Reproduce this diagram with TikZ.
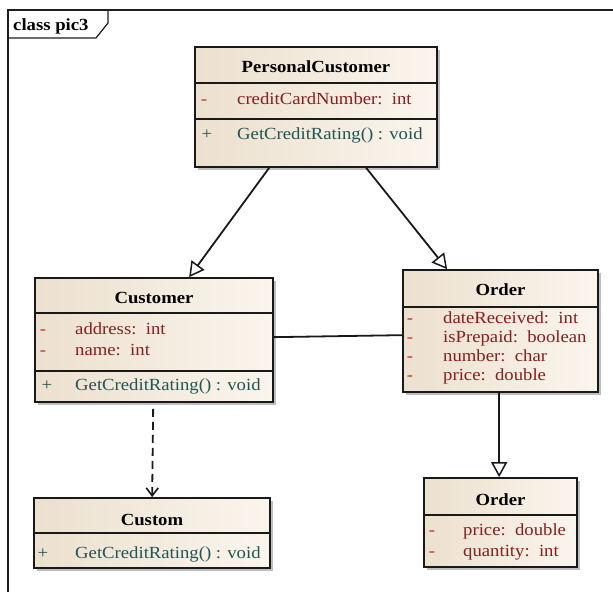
\documentclass[tikz,border=0pt]{standalone}
\usepackage{fontspec}
\setmainfont{Liberation Serif}[FakeStretch=1.1]
\usetikzlibrary{arrows.meta,shadows}
\definecolor{boxL}{RGB}{236,224,206}
\definecolor{boxR}{RGB}{250,245,237}
\definecolor{attrcol}{RGB}{135,30,30}
\definecolor{visred}{RGB}{185,45,40}
\definecolor{opcol}{RGB}{30,85,85}
\definecolor{framecol}{RGB}{30,30,30}
\newcommand\umlfont{\fontsize{17bp}{19bp}\selectfont}
\tikzset{
  umlbox/.style={draw=black!90, line width=1.7bp, inner sep=0pt,
    left color=boxL, right color=boxR,
    drop shadow={shadow xshift=3bp, shadow yshift=-3bp, fill=black, opacity=0.25}},
  sepline/.style={draw=black!90, line width=1.5bp},
  ttl/.style={anchor=base, font=\umlfont\bfseries, inner sep=0pt},
  attr/.style={anchor=base west, font=\umlfont, text=attrcol, inner sep=0pt},
  op/.style={anchor=base west, font=\umlfont, text=opcol, inner sep=0pt},
  visminus/.style={anchor=base, font=\umlfont, text=visred, inner sep=0pt},
  visplus/.style={anchor=base, font=\umlfont, text=opcol, inner sep=0pt},
  conn/.style={line width=1.8bp, draw=black!90},
  gen/.style={conn, -{Triangle[length=15bp, width=16bp, fill=white, line width=1.5bp]}},
  dep/.style={conn, dash pattern=on 8bp off 5bp, -{Straight Barb[length=8bp, width=12bp, line width=1.6bp]}}
}
\begin{document}
\begin{tikzpicture}[x=1bp, y=-1bp]
\useasboundingbox[fill=white] (0,0) rectangle (613,592);

% diagram frame and name tab
\draw[framecol, line width=1.2bp] (8,592) -- (8,10) -- (613,10);
\draw[framecol, line width=1.2bp] (8,38) -- (96,38) -- (108,23) -- (108,10);
\node[anchor=base west, inner sep=0pt, font=\umlfont\bfseries] (tab) at (13,31) {class pic3};

% classes
\node[umlbox, minimum width=242bp, minimum height=120bp] (pc) at (316,107) {};
\node[umlbox, minimum width=238bp, minimum height=124bp] (cust) at (154,340) {};
\node[umlbox, minimum width=195bp, minimum height=122bp] (ord) at (500.5,331) {};
\node[umlbox, minimum width=236bp, minimum height=70bp] (custom) at (152,533) {};
\node[umlbox, minimum width=153bp, minimum height=89bp] (ord2) at (500.5,522.5) {};

% compartment separators
\draw[sepline] (pc.west |- 0,83) -- (pc.east |- 0,83);
\draw[sepline] (pc.west |- 0,119) -- (pc.east |- 0,119);
\draw[sepline] (cust.west |- 0,313) -- (cust.east |- 0,313);
\draw[sepline] (cust.west |- 0,371) -- (cust.east |- 0,371);
\draw[sepline] (ord.west |- 0,307) -- (ord.east |- 0,307);
\draw[sepline] (custom.west |- 0,533) -- (custom.east |- 0,533);
\draw[sepline] (ord2.west |- 0,515) -- (ord2.east |- 0,515);

% PersonalCustomer
\node[ttl] (pcT) at (316,73) {PersonalCustomer};
\node[visminus] (pcV1) at (204,105) {-};
\node[attr] (pcA1) at (237,105) {creditCardNumber:\ \ int};
\node[visplus] (pcV2) at (207,140) {+};
\node[op] (pcO1) at (237,140) {GetCreditRating() : void};

% Customer
\node[ttl] (custT) at (154,303) {Customer};
\node[visminus] (custV1) at (43,334) {-};
\node[attr] (custA1) at (75,334) {address:\ \ int};
\node[visminus] (custV2) at (43,355) {-};
\node[attr] (custA2) at (75,355) {name:\ \ int};
\node[visplus] (custV3) at (47,390) {+};
\node[op] (custO1) at (75,390) {GetCreditRating() : void};

% Order
\node[ttl] (ordT) at (500.5,295) {Order};
\node[visminus] (ordV1) at (410,323) {-};
\node[attr] (ordA1) at (443,323) {dateReceived:\ \ int};
\node[visminus] (ordV2) at (410,342) {-};
\node[attr] (ordA2) at (443,342) {isPrepaid:\ \ boolean};
\node[visminus] (ordV3) at (410,361) {-};
\node[attr] (ordA3) at (443,361) {number:\ \ char};
\node[visminus] (ordV4) at (410,380) {-};
\node[attr] (ordA4) at (443,380) {price:\ \ double};

% Custom
\node[ttl] (customT) at (152,525) {Custom};
\node[visplus] (customV1) at (43,558) {+};
\node[op] (customO1) at (75,558) {GetCreditRating() : void};

% second Order
\node[ttl] (ord2T) at (500.5,505) {Order};
\node[visminus] (ord2V1) at (432,535) {-};
\node[attr] (ord2A1) at (463,535) {price:\ \ double};
\node[visminus] (ord2V2) at (432,556) {-};
\node[attr] (ord2A2) at (463,556) {quantity:\ \ int};

% relationships
\draw[gen] ([xshift=75bp]pc.south west) -- ([xshift=155bp]cust.north west);
\draw[gen] ([xshift=172bp]pc.south west) -- ([xshift=45bp]ord.north west);
\draw[conn] ([yshift=-60bp]cust.north east) -- ([yshift=-66bp]ord.north west);
\draw[dep] ([xshift=119bp, yshift=-6bp]cust.south west) -- ([xshift=119bp]custom.north west);
\draw[gen] ([xshift=97bp]ord.south west) -- ([xshift=76bp]ord2.north west);
\end{tikzpicture}
\end{document}
